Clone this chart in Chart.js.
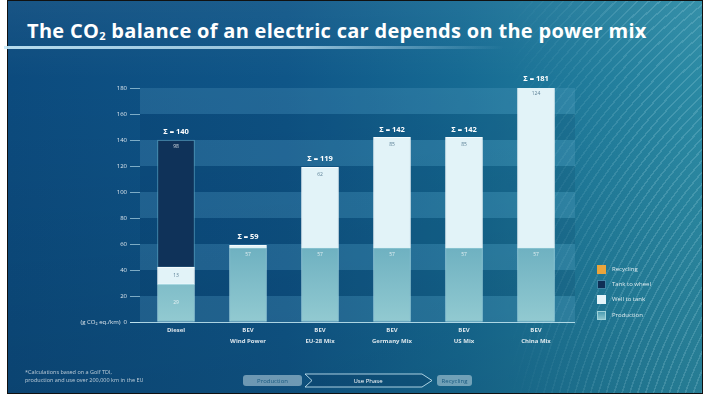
<!DOCTYPE html>
<html>
<head>
<meta charset="utf-8">
<script src="https://cdn.jsdelivr.net/npm/chart.js@4.4.1/dist/chart.umd.min.js"></script>
<style>
  html, body { margin:0; padding:0; background:#fff; }
  #slide {
    position:absolute; left:7px; top:0; width:694px; height:392px;
    border:1px solid #111; overflow:hidden;
    background:
      linear-gradient(180deg, rgba(255,255,255,0.05) 0%, rgba(0,0,0,0) 20%, rgba(0,0,0,0.10) 100%),
      linear-gradient(90deg, #0c4b7e 0%, #0f5688 40%, #166a93 65%, #217d9c 85%, #2b8aa4 100%);
  }
  #rings {
    position:absolute; left:0; top:0; width:694px; height:392px;
    background: repeating-radial-gradient(circle at 1150px 560px, rgba(255,255,255,0) 0px, rgba(255,255,255,0) 6px, rgba(190,235,245,0.18) 6px, rgba(190,235,245,0.18) 7.5px);
    -webkit-mask-image: linear-gradient(90deg, transparent 0%, transparent 72%, #000 92%);
    mask-image: linear-gradient(90deg, transparent 0%, transparent 72%, #000 92%);
  }
  #title {
    position:absolute; left:27px; top:17px; color:#fff;
    font-family:"Open Sans", "DejaVu Sans", sans-serif; font-weight:700; font-size:20px;
    letter-spacing:0.3px; white-space:nowrap;
  }
  #title sub { font-size:11px; vertical-align:-2px; }
  #rule {
    position:absolute; left:4px; top:46px; width:500px; height:3px;
    background:linear-gradient(90deg, rgba(200,235,250,0.9), rgba(200,235,250,0.7) 60%, rgba(200,235,250,0));
  }
  canvas#c { position:absolute; left:0; top:0; }
  .leg { position:absolute; left:597px; font-family:"Open Sans", sans-serif; font-size:6px; color:rgba(255,255,255,0.85); white-space:nowrap; }
  .leg i { display:inline-block; width:9px; height:9px; vertical-align:middle; margin-right:6px; box-sizing:border-box; }
  #foot { position:absolute; left:25px; top:368px; font-family:"Open Sans", sans-serif; font-size:5.5px; line-height:8px; color:rgba(255,255,255,0.7); }
</style>
</head>
<body>
<div id="slide"><div id="rings"></div></div>
<div id="title">The CO<sub>2</sub> balance of an electric car depends on the power mix</div>
<div id="rule"></div>
<canvas id="c" width="710" height="396"></canvas>

<div class="leg" style="top:265px"><i style="background:#e9a53c"></i>Recycling</div>
<div class="leg" style="top:280px"><i style="background:#0f2f55;border:1px solid #3f86a6"></i>Tank to wheel</div>
<div class="leg" style="top:295px"><i style="background:#e4f4f9"></i>Well to tank</div>
<div class="leg" style="top:311px"><i style="background:linear-gradient(#4c9db2,#8cc5cd);border:1px solid #9fd3da"></i>Production</div>

<div id="foot">*Calculations based on a Golf TDI,<br>production and use over 200,000 km in the EU</div>

<svg style="position:absolute;left:0;top:0" width="710" height="396">
  <rect x="243" y="375" width="59" height="11" rx="3" fill="rgba(190,215,225,0.55)"/>
  <text x="272.5" y="382.5" text-anchor="middle" font-family="Open Sans" font-size="6" fill="#1a5a80">Production</text>
  <path d="M305,374 L422,374 L432,380.5 L422,387 L305,387 L312,380.5 Z" fill="rgba(10,60,100,0.35)" stroke="rgba(210,240,250,0.8)" stroke-width="1"/>
  <text x="368" y="382.5" text-anchor="middle" font-family="Open Sans" font-size="6" fill="#fff">Use Phase</text>
  <rect x="437" y="375" width="35" height="11" rx="3" fill="rgba(190,215,225,0.55)"/>
  <text x="454.5" y="382.5" text-anchor="middle" font-family="Open Sans" font-size="6" fill="#1a5a80">Recycling</text>
</svg>

<script>
const categories = [["Diesel",""],["BEV","Wind Power"],["BEV","EU-28 Mix"],["BEV","Germany Mix"],["BEV","US Mix"],["BEV","China Mix"]];
const production  = [29, 57, 57, 57, 57, 57];
const wellToTank  = [13, 2, 62, 85, 85, 124];
const tankToWheel = [98, 0, 0, 0, 0, 0];
const recycling   = [0, 0, 0, 0, 0, 0];
const totals      = [140, 59, 119, 142, 142, 181];
const yTicks      = [0, 20, 40, 60, 80, 100, 120, 140, 160, 180];
const yUnit       = "(g CO\u2082 eq./km)";

function prodGradient(ctx) {
  const ch = ctx.chart;
  const area = ch.chartArea;
  if (!area) return '#5aa5b7';
  const g = ch.ctx.createLinearGradient(0, area.top + 60, 0, area.bottom);
  g.addColorStop(0, '#3f8fab');
  g.addColorStop(1, '#92cad1');
  return g;
}

const bands = {
  id: 'bands',
  beforeDatasetsDraw(chart) {
    const {ctx, chartArea} = chart;
    const y = chart.scales.y;
    ctx.save();
    for (let i = 0; i < yTicks.length - 1; i++) {
      const y0 = y.getPixelForValue(yTicks[i]);
      const y1 = y.getPixelForValue(yTicks[i + 1]);
      ctx.fillStyle = (i % 2 === 0) ? 'rgba(120,190,220,0.18)' : 'rgba(0,30,70,0.10)';
      ctx.fillRect(chartArea.left, y1, chartArea.right + 3 - chartArea.left, y0 - y1);
    }
    ctx.strokeStyle = 'rgba(200,235,245,0.85)';
    ctx.lineWidth = 1;
    ctx.beginPath();
    ctx.moveTo(130, chartArea.bottom + 0.5);
    ctx.lineTo(chartArea.right + 3, chartArea.bottom + 0.5);
    ctx.stroke();
    ctx.restore();
  }
};

const labelsPlugin = {
  id: 'labelsPlugin',
  afterDatasetsDraw(chart) {
    const {ctx} = chart;
    ctx.save();
    ctx.textAlign = 'center';
    ctx.textBaseline = 'middle';
    const segs = [[0, production, 'rgba(255,255,255,0.8)'], [1, wellToTank, '#5a7f95'], [2, tankToWheel, 'rgba(255,255,255,0.8)']];
    ctx.font = '5px "Open Sans", sans-serif';
    segs.forEach(([di, arr, col]) => {
      const meta = chart.getDatasetMeta(di);
      meta.data.forEach((el, j) => {
        if (arr[j] < 5) return;
        const h = el.base - el.y;
        const ty = h > 45 ? el.y + 7 : el.y + h / 2;
        ctx.fillStyle = col;
        ctx.fillText(String(arr[j]), el.x, ty);
      });
    });
    ctx.font = 'bold 7.5px "Open Sans", sans-serif';
    ctx.fillStyle = '#fff';
    const top = chart.scales.y;
    const meta0 = chart.getDatasetMeta(0);
    meta0.data.forEach((el, j) => {
      ctx.fillText('\u03A3 = ' + totals[j], el.x, top.getPixelForValue(totals[j]) - 8);
    });
    ctx.restore();
  }
};

const common = { barThickness: 37, borderWidth: 1, borderSkipped: false };

new Chart(document.getElementById('c'), {
  type: 'bar',
  data: {
    labels: categories,
    datasets: [
      Object.assign({ label: 'Production', data: production, backgroundColor: prodGradient, borderColor: 'rgba(170,220,228,0.9)' }, common),
      Object.assign({ label: 'Well to tank', data: wellToTank, backgroundColor: '#e2f3f8', borderColor: '#f4fbfd' }, common),
      Object.assign({ label: 'Tank to wheel', data: tankToWheel, backgroundColor: '#0f3259', borderColor: 'rgba(90,160,190,0.8)' }, common),
      Object.assign({ label: 'Recycling', data: recycling, backgroundColor: '#e9a53c', borderColor: '#e9a53c' }, common)
    ]
  },
  options: {
    responsive: false,
    animation: false,
    layout: { padding: { left: 0, right: 138, top: 88, bottom: 0 } },
    plugins: { legend: { display: false }, tooltip: { enabled: false } },
    scales: {
      x: {
        stacked: true,
        afterFit(s) { s.height = 74; },
        grid: { display: false, drawTicks: false },
        border: { display: false },
        ticks: { color: 'rgba(255,255,255,0.85)', font: { family: 'Open Sans', size: 6, weight: 'bold', lineHeight: 1.8 }, padding: 3, maxRotation: 0, autoSkip: false }
      },
      y: {
        stacked: true,
        min: 0, max: 180,
        afterFit(s) { s.width = 140; },
        afterBuildTicks(s) { s.ticks = yTicks.map(v => ({ value: v })); },
        border: { display: false },
        grid: { drawOnChartArea: false, drawTicks: true, tickLength: 10, color: 'rgba(200,235,245,0.6)' },
        ticks: {
          color: 'rgba(255,255,255,0.85)', font: { family: 'Open Sans', size: 6 }, padding: 3,
          callback: v => v === 0 ? yUnit + '  0' : String(v)
        }
      }
    }
  },
  plugins: [bands, labelsPlugin]
});
</script>
</body>
</html>
